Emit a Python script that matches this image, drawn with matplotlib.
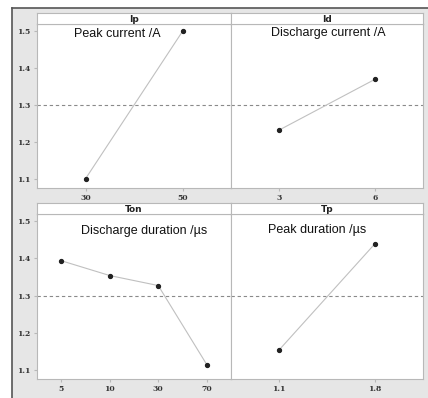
import matplotlib
matplotlib.use("Agg")
import matplotlib.pyplot as plt
from matplotlib.patches import Rectangle
from matplotlib.lines import Line2D

# Main effects data
ip_levels = ["30", "50"]
ip_means = [1.100, 1.500]
id_levels = ["3", "6"]
id_means = [1.232, 1.370]
ton_levels = ["5", "10", "30", "70"]
ton_means = [1.394, 1.354, 1.327, 1.114]
tp_levels = ["1.1", "1.8"]
tp_means = [1.153, 1.440]
grand_mean = 1.30

y_ticks = [1.1, 1.2, 1.3, 1.4, 1.5]

W, H = 428, 398
fig = plt.figure(figsize=(W / 100, H / 100), dpi=100)
fig.patch.set_facecolor("white")

def fx(px):
    return px / W

def fy(py):
    return 1 - py / H

# grey background with dark frame on top and left
fig.patches.append(Rectangle((fx(12), 0), 1 - fx(12), fy(8), transform=fig.transFigure,
                             facecolor="#e6e6e6", edgecolor="none", zorder=-10))
fig.lines.append(Line2D([fx(12), 1], [fy(8), fy(8)], transform=fig.transFigure,
                        color="#555555", lw=1.2, zorder=-5))
fig.lines.append(Line2D([fx(12), fx(12)], [0, fy(8)], transform=fig.transFigure,
                        color="#555555", lw=1.2, zorder=-5))

# name, levels, means, label, x0, x1, y_top, y_header, y_bottom, label x, label y (pixels)
panels = [
    ("Ip", ip_levels, ip_means, "Peak current /A", 37, 231, 13, 24, 188, 117, 34),
    ("Id", id_levels, id_means, "Discharge current /A", 231, 423, 13, 24, 188, 328, 33),
    ("Ton", ton_levels, ton_means, "Discharge duration /\u00b5s", 37, 231, 203, 214, 379, 144, 231),
    ("Tp", tp_levels, tp_means, "Peak duration /\u00b5s", 231, 423, 203, 214, 379, 317, 230),
]

border = "#b8b8b8"
for i, (name, levels, means, label, x0, x1, ytop, yhead, ybot, lx, ly) in enumerate(panels):
    ax = fig.add_axes([fx(x0), fy(ybot), fx(x1) - fx(x0), fy(yhead) - fy(ybot)])
    pos = list(range(len(levels)))
    ax.axhline(grand_mean, color="#8a8a8a", lw=0.8, ls=(0, (3, 2.5)), zorder=1)
    ax.plot(pos, means, color="#c0c0c0", lw=0.8, zorder=2)
    ax.plot(pos, means, "o", color="#222222", ms=2.8, zorder=3)
    ax.set_xlim(-0.5, len(levels) - 0.5)
    ax.set_ylim(1.075, 1.52)
    ax.set_xticks(pos)
    ax.set_xticklabels(levels, fontsize=5.5, fontweight="bold", color="#333333",
                       family="DejaVu Serif")
    ax.tick_params(axis="x", length=2, color=border, pad=2)
    if i % 2 == 0:
        ax.set_yticks(y_ticks)
        ax.set_yticklabels([f"{v:.1f}" for v in y_ticks], fontsize=5.5, fontweight="bold",
                           color="#333333", family="DejaVu Serif")
        ax.tick_params(axis="y", length=2, color=border, pad=3)
    else:
        ax.set_yticks([])
    for sp in ax.spines.values():
        sp.set_color(border)
        sp.set_linewidth(0.8)

    # annotation text
    fig.text(fx(lx), fy(ly), label, ha="center", va="center", fontsize=9,
             family="Liberation Sans", color="#111111")

    # strip header
    hax = fig.add_axes([fx(x0), fy(yhead), fx(x1) - fx(x0), fy(ytop) - fy(yhead)])
    hax.set_xticks([])
    hax.set_yticks([])
    hax.set_facecolor("white")
    for sp in hax.spines.values():
        sp.set_color(border)
        sp.set_linewidth(0.8)
    hax.text(0.5, 0.45, name, ha="center", va="center", fontsize=6.5, fontweight="bold",
             color="#222222", family="DejaVu Sans", transform=hax.transAxes)

fig.savefig("out.png", dpi=100)
